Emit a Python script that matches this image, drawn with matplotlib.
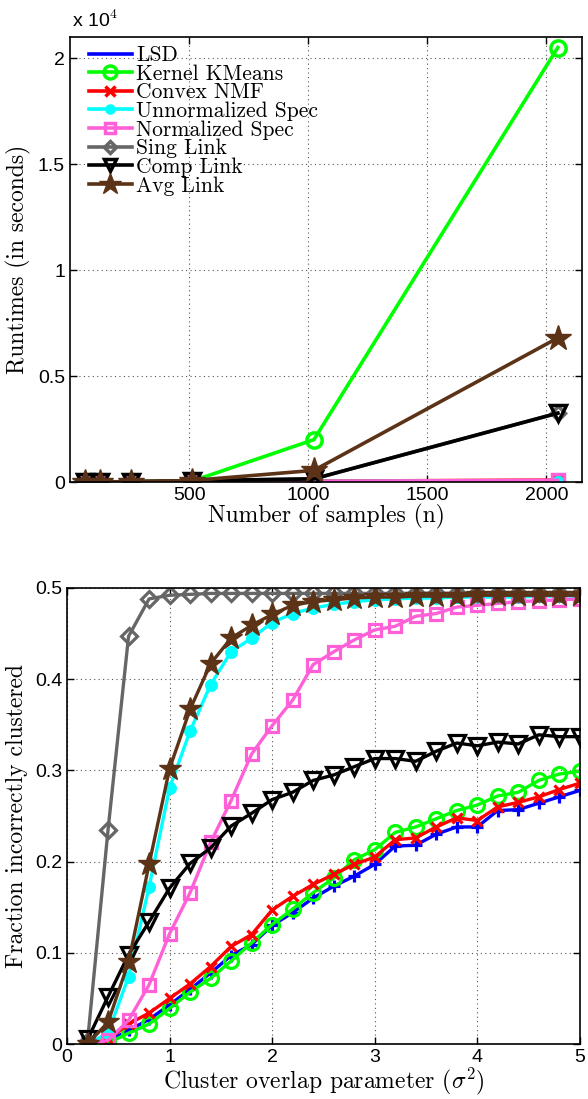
import numpy as np
import matplotlib
matplotlib.use("Agg")
import matplotlib.pyplot as plt
from matplotlib.ticker import FuncFormatter

plt.rcParams['mathtext.fontset'] = 'cm'
plt.rcParams['axes.unicode_minus'] = False

# --- data: runtimes vs number of samples ---
n_samples = [64, 128, 256, 512, 1024, 2048]
rt_lsd = [0.2, 0.5, 1, 3, 10, 40]
rt_kkmeans = [1, 3, 10, 40, 2000, 20500]
rt_cnmf = [1, 2, 6, 15, 40, 90]
rt_unnorm = [0.5, 1, 3, 10, 25, 60]
rt_norm = [0.5, 1, 3, 10, 30, 80]
rt_sing = [1, 3, 15, 60, 150, 3250]
rt_comp = [1, 3, 15, 60, 150, 3250]
rt_avg = [2, 5, 20, 70, 550, 6800]

# --- data: fraction incorrectly clustered vs sigma^2 ---
sigma2 = [0.2, 0.4, 0.6, 0.8, 1.0, 1.2, 1.4, 1.6, 1.8, 2.0, 2.2, 2.4, 2.6,
          2.8, 3.0, 3.2, 3.4, 3.6, 3.8, 4.0, 4.2, 4.4, 4.6, 4.8, 5.0]
err_lsd = [0.0, 0.003, 0.015, 0.027, 0.043, 0.060, 0.078, 0.097, 0.109, 0.130,
           0.144, 0.160, 0.173, 0.184, 0.197, 0.217, 0.218, 0.230, 0.238, 0.238,
           0.256, 0.257, 0.264, 0.271, 0.278]
err_kkmeans = [0.0, 0.001, 0.012, 0.022, 0.039, 0.057, 0.072, 0.091, 0.111, 0.131,
               0.148, 0.166, 0.182, 0.202, 0.213, 0.232, 0.238, 0.247, 0.256, 0.262,
               0.272, 0.276, 0.289, 0.296, 0.299]
err_cnmf = [0.0, 0.005, 0.022, 0.034, 0.050, 0.066, 0.085, 0.107, 0.120, 0.147,
            0.162, 0.175, 0.186, 0.197, 0.205, 0.224, 0.226, 0.238, 0.248, 0.245,
            0.260, 0.265, 0.271, 0.279, 0.286]
err_unnorm = [0.0, 0.012, 0.074, 0.172, 0.281, 0.343, 0.394, 0.430, 0.445, 0.462,
              0.472, 0.478, 0.482, 0.485, 0.487, 0.488, 0.489, 0.489, 0.490, 0.490,
              0.490, 0.490, 0.491, 0.491, 0.491]
err_norm = [0.0, 0.004, 0.026, 0.065, 0.121, 0.166, 0.221, 0.267, 0.318, 0.349,
            0.377, 0.416, 0.430, 0.443, 0.454, 0.458, 0.469, 0.472, 0.479, 0.481,
            0.483, 0.485, 0.486, 0.487, 0.488]
err_sing = [0.003, 0.235, 0.447, 0.488, 0.492, 0.493, 0.494, 0.494, 0.494, 0.494,
            0.494, 0.494, 0.494, 0.494, 0.494, 0.494, 0.494, 0.494, 0.494, 0.494,
            0.494, 0.494, 0.494, 0.494, 0.494]
err_comp = [0.005, 0.052, 0.098, 0.134, 0.171, 0.198, 0.215, 0.239, 0.253, 0.268,
            0.276, 0.289, 0.295, 0.304, 0.313, 0.313, 0.310, 0.321, 0.330, 0.327,
            0.331, 0.329, 0.339, 0.337, 0.337]
err_avg = [0.0, 0.024, 0.090, 0.197, 0.302, 0.367, 0.417, 0.445, 0.459, 0.471,
           0.481, 0.485, 0.487, 0.489, 0.490, 0.490, 0.491, 0.491, 0.491, 0.492,
           0.492, 0.492, 0.492, 0.492, 0.492]

labels = ["LSD", "Kernel KMeans", "Convex NMF", "Unnormalized Spec",
          "Normalized Spec", "Sing Link", "Comp Link", "Avg Link"]

# colour, marker, filled, size(top), size(bottom)
styles = [
    ("#0000ff", "+", True, 0, 9),
    ("#00ff00", "o", False, 11, 10),
    ("#ff0000", "x", True, 8, 7),
    ("#00ffff", "o", True, 6, 7),
    ("#ff5fd7", "s", False, 9, 9),
    ("#666666", "D", False, 7, 8),
    ("#000000", "v", False, 11, 11),
    ("#5c3317", "*", True, 19, 17),
]

fig = plt.figure(figsize=(5.88, 10.99), dpi=100)
ax1 = fig.add_axes([0.119, 0.5614, 0.871, 0.405])
ax2 = fig.add_axes([0.114, 0.0500, 0.872, 0.415])

lab_font = dict(family="cmr10", size=17)


def style_axes(ax):
    ax.tick_params(direction="in", top=True, right=True, labelsize=14,
                   length=5, width=1)
    for lab in ax.get_xticklabels() + ax.get_yticklabels():
        lab.set_family("Liberation Sans")
    ax.grid(True, linestyle=(0, (1, 3)), color="#555555", linewidth=0.8)
    ax.set_axisbelow(True)
    for s in ax.spines.values():
        s.set_linewidth(1.2)


# --- top: runtimes ---
top_series = [rt_lsd, rt_kkmeans, rt_cnmf, rt_unnorm, rt_norm, rt_sing, rt_comp, rt_avg]
for vals, lab, (c, m, filled, ms, _) in zip(top_series, labels, styles):
    ax1.plot(n_samples, vals, color=c, lw=2.6, label=lab,
             marker=(m if ms > 0 else None), ms=ms, mew=2.5 if m != "*" else 1,
             mfc=(c if filled else "none"), mec=c)

ax1.set_xlim(0, 2150)
ax1.set_ylim(0, 21000)
ax1.set_xticks([500, 1000, 1500, 2000])
ax1.set_yticks([0, 5000, 10000, 15000, 20000])
ax1.yaxis.set_major_formatter(FuncFormatter(lambda v, p: "%g" % (v / 1e4)))
style_axes(ax1)
ax1.set_xlabel("Number of samples (n)", fontdict=lab_font, labelpad=0)
ax1.set_ylabel("Runtimes (in seconds)", fontdict=lab_font, labelpad=5)
ax1.text(0.004, 1.014, r"x 10$^{4}$", transform=ax1.transAxes, fontsize=14,
         family="Liberation Sans", ha="left", va="bottom")
leg = ax1.legend(loc="upper left", frameon=False, prop=dict(family="cmr10", size=15.5),
                 handlelength=2.0, handletextpad=0.2, labelspacing=-0.04,
                 borderaxespad=0.0, markerscale=0.85, bbox_to_anchor=(0.02, 1.0))

# --- bottom: clustering error ---
bot_series = [err_lsd, err_kkmeans, err_cnmf, err_unnorm, err_norm, err_sing, err_comp, err_avg]
for vals, lab, (c, m, filled, _, ms) in zip(bot_series, labels, styles):
    ax2.plot(sigma2, vals, color=c, lw=2.4, marker=m, ms=ms,
             mew=2.3 if m != "*" else 1, mfc=(c if filled else "none"), mec=c)

ax2.set_xlim(0, 5)
ax2.set_ylim(0, 0.5)
ax2.set_xticks([0, 1, 2, 3, 4, 5])
ax2.set_yticks([0, 0.1, 0.2, 0.3, 0.4, 0.5])
ax2.yaxis.set_major_formatter(FuncFormatter(lambda v, p: "%g" % round(v, 2)))
style_axes(ax2)
ax2.set_xlabel(r"Cluster overlap parameter ($\sigma^2$)", fontdict=lab_font, labelpad=0)
ax2.set_ylabel("Fraction incorrectly clustered", fontdict=lab_font, labelpad=5)

fig.savefig("out.png", dpi=100)
